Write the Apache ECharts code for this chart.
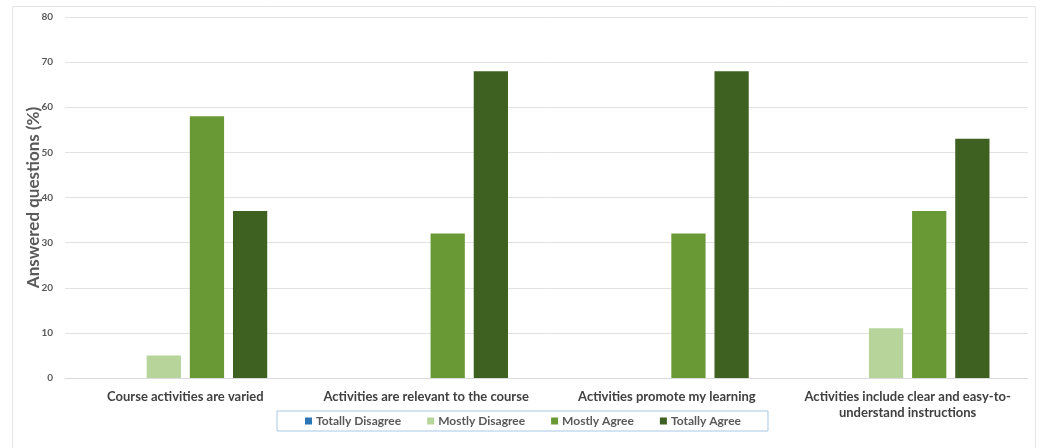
<!DOCTYPE html>
<html>
<head>
<meta charset="utf-8">
<script src="https://cdn.jsdelivr.net/npm/echarts@6/dist/echarts.min.js"></script>
<style>
  html, body { margin: 0; padding: 0; background: #ffffff; }
  #chart { width: 1041px; height: 448px; }
</style>
</head>
<body>
<div id="chart"></div>
<script>
// Survey statements (x-axis categories)
const categories = [
  'Course activities are varied',
  'Activities are relevant to the course',
  'Activities promote my learning',
  'Activities include clear and easy-to-\nunderstand instructions'
];

// Share of answers per response option, in percent
const totallyDisagree = [0, 0, 0, 0];
const mostlyDisagree  = [5, 0, 0, 11];
const mostlyAgree     = [58, 32, 32, 37];
const totallyAgree    = [37, 68, 68, 53];

const seriesNames  = ['Totally Disagree', 'Mostly Disagree', 'Mostly Agree', 'Totally Agree'];
const seriesColors = ['#2e75b6', '#b7d59b', '#689934', '#3e6020'];
const seriesData   = [totallyDisagree, mostlyDisagree, mostlyAgree, totallyAgree];

const yTicks = { min: 0, max: 80, interval: 10 };

const FONT = 'Lato, "Liberation Sans", sans-serif';

const chart = echarts.init(document.getElementById('chart'), null, { renderer: 'canvas' });

chart.setOption({
  backgroundColor: '#ffffff',
  animation: false,
  textStyle: { fontFamily: FONT },
  graphic: [{
    type: 'rect',
    silent: true,
    z: -10,
    shape: { x: 12.5, y: 6.5, width: 1023, height: 470 },
    style: { fill: '#ffffff', stroke: '#e4e4e4', lineWidth: 1 }
  }],
  grid: { left: 65, right: 13, top: 17, bottom: 70, containLabel: false },
  legend: {
    data: seriesNames,
    left: 277,
    top: 411,
    itemWidth: 7,
    itemHeight: 7,
    itemGap: 26,
    padding: [4, 27, 4, 28],
    borderColor: '#a9c7e6',
    borderWidth: 1,
    icon: 'rect',
    textStyle: { fontFamily: FONT, fontWeight: 'bold', fontSize: 12, color: '#595959', padding: [0, 0, 0, -1] }
  },
  xAxis: {
    type: 'category',
    data: categories,
    axisLine: { show: true, lineStyle: { color: '#d9d9d9', width: 1 } },
    axisTick: { show: false },
    axisLabel: {
      interval: 0,
      margin: 11,
      fontFamily: FONT,
      fontWeight: 'bold',
      fontSize: 13,
      color: '#404040',
      lineHeight: 16
    }
  },
  yAxis: {
    type: 'value',
    min: yTicks.min,
    max: yTicks.max,
    interval: yTicks.interval,
    name: 'Answered questions (%)',
    nameLocation: 'middle',
    nameGap: 23,
    nameMoveOverlap: false,
    nameRotate: 90,
    nameTextStyle: { fontFamily: FONT, fontWeight: 'bold', fontSize: 17, color: '#595959' },
    axisLine: { show: false },
    axisTick: { show: false },
    axisLabel: { margin: 12, fontFamily: FONT, fontWeight: 'bold', fontSize: 10, color: '#595959' },
    splitLine: { show: true, lineStyle: { color: '#e2e2e2', width: 1 } }
  },
  series: seriesNames.map((name, i) => ({
    name: name,
    type: 'bar',
    data: seriesData[i],
    barGap: '26%',
    barCategoryGap: '32%',
    itemStyle: { color: seriesColors[i] }
  }))
});
</script>
</body>
</html>
